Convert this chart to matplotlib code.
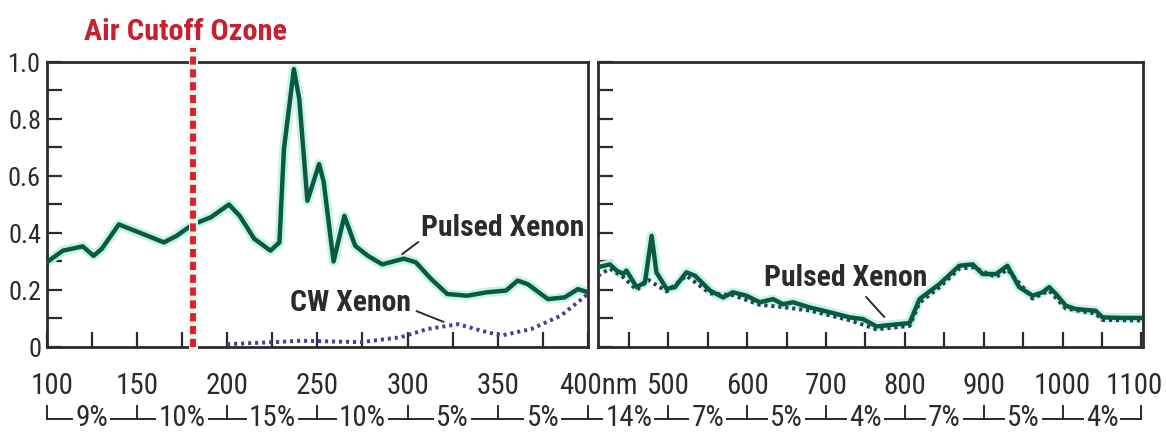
import numpy as np
import matplotlib.pyplot as plt
from matplotlib import font_manager
from matplotlib.transforms import blended_transform_factory

# ---- data ----
uv_nm = [100, 109, 120, 126, 130.5, 140, 152, 165, 172, 181, 191, 201, 207, 215, 224, 229,
         231.5, 237, 240, 244.5, 251, 253.5, 259, 265, 271, 278, 286, 298, 304.6, 313, 322,
         333, 344, 354.6, 361, 366.7, 377.8, 387, 394.4, 400]
uv_pulsed = [0.297, 0.338, 0.353, 0.32, 0.344, 0.43, 0.40, 0.367, 0.39, 0.43, 0.455, 0.50,
             0.46, 0.38, 0.338, 0.367, 0.695, 0.975, 0.87, 0.513, 0.642, 0.58, 0.30, 0.46,
             0.355, 0.32, 0.29, 0.31, 0.297, 0.239, 0.186, 0.18, 0.192, 0.198, 0.233, 0.22,
             0.168, 0.174, 0.203, 0.192]

uv_cw_nm = [200, 226, 241, 274, 296, 311, 328, 341, 352, 368.5, 385, 400]
uv_cw = [0.01, 0.017, 0.022, 0.017, 0.034, 0.063, 0.08, 0.057, 0.04, 0.063, 0.11, 0.186]

vis_nm = [411, 426, 434.6, 443, 447, 460, 470.5, 479, 485, 498, 508.5, 523, 534, 553,
          569.6, 582, 599, 616, 633, 645.6, 658, 679, 704.7, 730, 747, 764, 780.6, 806,
          818.6, 844, 869, 886, 898.7, 915.7, 930, 945, 962, 974.7, 983, 991.6, 1004,
          1017, 1042, 1050.6, 1076, 1102]
vis_pulsed = [0.28, 0.29, 0.268, 0.256, 0.268, 0.21, 0.227, 0.39, 0.262, 0.204, 0.21,
              0.262, 0.25, 0.198, 0.174, 0.192, 0.18, 0.157, 0.168, 0.15, 0.157, 0.139,
              0.122, 0.104, 0.098, 0.072, 0.077, 0.084, 0.168, 0.221, 0.285, 0.29, 0.256,
              0.256, 0.285, 0.21, 0.18, 0.192, 0.21, 0.186, 0.145, 0.133, 0.127, 0.104,
              0.102, 0.102]
vis_cw_nm = [411, 426, 443, 460, 475, 498, 523, 553, 582, 616, 645, 679, 730, 764, 806,
             818.6, 844, 869, 886, 915.7, 930, 962, 983, 1004, 1042, 1050.6, 1102]
vis_cw = [0.25, 0.275, 0.245, 0.2, 0.235, 0.195, 0.25, 0.188, 0.182, 0.148, 0.14, 0.128,
          0.094, 0.062, 0.074, 0.155, 0.21, 0.275, 0.28, 0.245, 0.272, 0.17, 0.198, 0.135,
          0.117, 0.095, 0.093]

uv_labels = ["100", "150", "200", "250", "300", "350"]
vis_labels = ["500", "600", "700", "800", "900", "1000", "1100"]
uv_pct = ["9%", "10%", "15%", "10%", "5%", "5%"]
vis_pct = ["14%", "7%", "5%", "4%", "7%", "5%", "4%"]
cutoff_nm = 181

# pick a narrow font if one is installed, otherwise shrink Liberation Sans a bit
names = {f.name for f in font_manager.fontManager.ttflist}
condensed = [f for f in font_manager.fontManager.ttflist
             if "condensed" in str(f.stretch).lower() or "Condensed" in f.fname]
if "Liberation Sans Narrow" in names:
    FONT, STRETCH, K = "Liberation Sans Narrow", "normal", 1.0
elif "Roboto Condensed" in names:
    FONT, STRETCH, K = "Roboto Condensed", "normal", 0.95
elif condensed:
    FONT, STRETCH, K = condensed[0].name, "condensed", 0.95
else:
    FONT, STRETCH, K = "Liberation Sans", "normal", 0.84
plt.rcParams["font.family"] = [FONT, "DejaVu Sans"]
plt.rcParams["font.stretch"] = STRETCH

green = "#0a5a42"
halo = "#c6f2e8"
purple = "#4a3d8f"
red = "#de1f2b"
ink = "#2b2b2b"
XLAB = 22 * K

fig = plt.figure(figsize=(11.66, 4.39), dpi=100)
ax1 = fig.add_axes([0.040, 0.2073, 0.4643, 0.6492])
ax2 = fig.add_axes([0.5129, 0.2073, 0.4674, 0.6492])

for ax in (ax1, ax2):
    ax.set_ylim(0, 1.0)
    for s in ax.spines.values():
        s.set_linewidth(2.0)
        s.set_color(ink)
    ax.tick_params(which="both", direction="in", length=11, width=1.6, color=ink,
                   labelcolor=ink)
    ax.tick_params(axis="x", which="both", labelsize=XLAB, pad=17)
    ax.tick_params(axis="y", which="both", labelsize=20 * K, pad=4)
    ax.set_yticks(np.arange(0.1, 1.0, 0.2), minor=True)


def edge_label(ax, x, text, dx):
    # tick label at a panel edge, nudged sideways like in the original artwork
    tr = blended_transform_factory(ax.transData, ax.transAxes)
    ax.annotate(text, xy=(x, 0), xycoords=tr, xytext=(dx, -17),
                textcoords="offset points", ha="center", va="top",
                fontsize=XLAB, color=ink)


# ---- left panel ----
ax1.set_xlim(100, 400)
ax1.set_xticks(np.arange(100, 401, 50), [""] + uv_labels[1:] + [""])
ax1.set_xticks(np.arange(125, 400, 50), minor=True)
ax1.set_yticks(np.arange(0, 1.01, 0.2), ["0", "0.2", "0.4", "0.6", "0.8", "1.0"])
edge_label(ax1, 100, uv_labels[0], 4)

ax1.plot(uv_nm, uv_pulsed, color=halo, lw=7, solid_joinstyle="round", zorder=2)
ax1.plot(uv_nm, uv_pulsed, color=green, lw=3.2, solid_joinstyle="round", zorder=3)
ax1.plot(uv_cw_nm, uv_cw, color=purple, lw=2.8, linestyle=(0, (0.8, 1.0)), zorder=3)

ax1.plot([cutoff_nm, cutoff_nm], [0, 1.05], color="#e2f6f2", lw=6.5, clip_on=False, zorder=4)
ax1.plot([cutoff_nm, cutoff_nm], [0, 1.05], color=red, lw=4.2,
         linestyle=(0, (1.4, 0.8)), clip_on=False, zorder=5)
ax1.text(176.8, 1.11, "Air Cutoff Ozone", color="#c8202e", fontsize=23 * K,
         fontweight="bold", ha="center", va="center", clip_on=False)

ax1.annotate("Pulsed Xenon", xy=(297, 0.326), xytext=(307.5, 0.42),
             fontsize=22.5 * K, fontweight="bold", color=ink, ha="left", va="center",
             arrowprops=dict(arrowstyle="-", color=ink, lw=1.4, shrinkA=0, shrinkB=0,
                             relpos=(0, 0.05)))
ax1.annotate("CW Xenon", xy=(320, 0.088), xytext=(302, 0.158),
             fontsize=22.5 * K, fontweight="bold", color=ink, ha="right", va="center",
             arrowprops=dict(arrowstyle="-", color=ink, lw=1.4, shrinkA=2, shrinkB=0,
                             relpos=(1, 0.25)))

# ---- right panel ----
ax2.set_xlim(411, 1102)
ax2.set_xticks(np.arange(500, 1101, 100), vis_labels[:-1] + [""])
ax2.set_xticks(np.arange(450, 1100, 100), minor=True)
ax2.set_yticks(np.arange(0, 1.01, 0.2), [""] * 6)
edge_label(ax2, 1100, vis_labels[-1], -5)
edge_label(ax2, 411.5, "400nm", 0)

ax2.plot(vis_nm, vis_pulsed, color=halo, lw=7, solid_joinstyle="round", zorder=2)
ax2.plot(vis_cw_nm, vis_cw, color="#2c3a5e", lw=2.8, linestyle=(0, (0.8, 1.0)), zorder=3)
ax2.plot(vis_nm, vis_pulsed, color=green, lw=3.2, solid_joinstyle="round", zorder=4)

ax2.annotate("Pulsed Xenon", xy=(774, 0.105), xytext=(622, 0.245),
             fontsize=22.5 * K, fontweight="bold", color=ink, ha="left", va="center",
             arrowprops=dict(arrowstyle="-", color=ink, lw=1.4, shrinkA=3, shrinkB=0,
                             relpos=(0.59, 0)))

# ---- percentage brackets under the axis ----
y_line = 1 - 420 / 439
y_top = 1 - 407 / 439
y_txt = 1 - 418 / 439


def brackets(ax, edges, labels, first_corner, last_corner):
    tr = blended_transform_factory(ax.transData, fig.transFigure)
    ax.plot([edges[0], edges[-1]], [y_line, y_line], color=ink, lw=1.4,
            transform=tr, clip_on=False)
    for i, e in enumerate(edges):
        if (i == 0 and not first_corner) or (i == len(edges) - 1 and not last_corner):
            continue
        ax.plot([e, e], [y_line, y_top], color=ink, lw=1.4, transform=tr, clip_on=False)
    for a, b, lab in zip(edges[:-1], edges[1:], labels):
        ax.text((a + b) / 2, y_txt, lab, transform=tr, ha="center", va="center",
                fontsize=22 * K, color=ink,
                bbox=dict(facecolor="white", edgecolor="none", pad=1.5))


brackets(ax1, [100, 150, 200, 250, 300, 350, 400], uv_pct, True, True)
brackets(ax2, [400, 500, 600, 700, 800, 900, 1000, 1100], vis_pct, False, True)

fig.savefig("out.png", dpi=100)
